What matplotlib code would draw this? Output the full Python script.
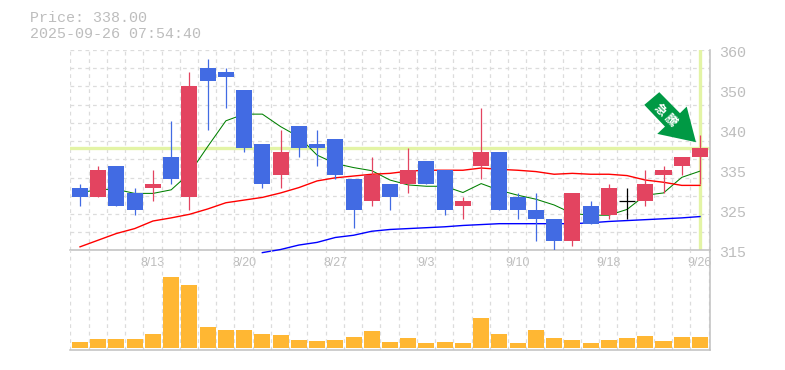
import numpy as np
import matplotlib
matplotlib.use("Agg")
import matplotlib.pyplot as plt
from matplotlib.patches import Polygon
from matplotlib.transforms import Affine2D

opens = [329,327,334,328,329,336,327,356,355,351,339,332,343,339,340,331,326,330,330,335,333,325,334,337,327,324,322,317,325,323,326,326,332,334,336]
closes = [327,333,325,324,330,331,352,353,354,338,330,337,338,338,332,324,332,327,333,330,324,326,337,324,324,322,317,328,321,329,326,330,333,336,338]
highs = [330,334,334,329,333,344,355,358,356,351,339,342,343,342,340,331,336,330,338,335,333,327,347,337,328,328,322,328,326,330,329,333,334,336,341]
lows = [325,327,325,323,326,330,324,342,347,337,329,329,336,334,331,320,325,324,328,330,323,322,331,324,322,317,315,316,321,322,322,325,328,332,330]
ma_short = [327.9,328.7,328.7,327.8,327.8,328.6,332.3,338.3,344.1,345.6,345.6,342.8,340.5,336.4,334.5,333.6,332.9,330.8,329.7,329.4,329.4,328,330,328.5,327.4,326.5,325.2,323.3,322.9,322.9,324.2,327.4,327.9,331.4,332.8]
ma_mid = [315.8,317.3,318.8,319.9,321.6,322.3,323.1,324.3,325.7,326.3,326.9,327.9,329.1,330.6,331.3,331.7,332.1,332.3,332.8,333,333,333,333.5,333.2,333,332.7,332.1,332.3,332.1,332.1,331.8,330.8,330.3,329.6,329.6]
ma_long = [np.nan]*10 + [314.5,315.2,316.2,316.8,317.9,318.4,319.3,319.7,319.9,320.1,320.3,320.6,320.8,321,321,321,321,321,321.2,321.5,321.7,321.9,322.1,322.3,322.6]
volumes = [6,9,9,9,14,71,63,21,18,18,14,13,8,7,8,11,17,6,10,5,6,5,30,14,5,18,10,8,5,8,10,12,7,11,11]
date_labels = ["8/13","8/20","8/27","9/3","9/10","9/18","9/26"]
date_index = [4,9,14,19,24,29,34]
price_ticks = [360,351,342,333,324,315]
price_tick_labels = ["360","350","340","335","325","315"]
last_price = 338

UP, DOWN, DOJI = "#E34460", "#426BE3", "#000000"
GRID, FRAME, TXT = "#dcdcdc", "#c0c0c0", "#bdbdbd"
LIME = "#E3F4A5"
W, H = 785, 370
SLOT = 18.235

fig = plt.figure(figsize=(W/100, H/100), dpi=100, facecolor="white")
def axes_px(l, t, r, b):
    return fig.add_axes([l/W, 1-b/H, (r-l)/W, (b-t)/H])
ax = axes_px(70, 50, 710, 250.4)
axv = axes_px(70, 250.4, 710, 350)
xlim = ((70-80)/SLOT, (710-80)/SLOT)
n = len(opens)
x = np.arange(n)
grid_x = np.arange(n+1) - 0.53

for a in (ax, axv):
    a.set_xlim(*xlim)
    a.patch.set_visible(False)
    a.vlines(grid_x, 0, 1, transform=a.get_xaxis_transform(), color=GRID, lw=0.9,
             linestyles=(0, (3, 3)), zorder=1)
    for s in ("top", "left"):
        a.spines[s].set_visible(False)
    for s in ("bottom", "right"):
        a.spines[s].set_color(FRAME)
        a.spines[s].set_linewidth(1.1)

# price panel
ax.set_ylim(315, 360)
ax.hlines(np.linspace(315, 360, 12), 0, 1, transform=ax.get_yaxis_transform(),
          color=GRID, lw=0.9, linestyles=(0, (3, 3)), zorder=1)
ax.axhline(last_price, color=LIME, lw=2.4, zorder=2)
ax.axvline(n-1, color=LIME, lw=2.4, zorder=2, ymin=0.005, ymax=0.995)
ax.plot(x, ma_short, color="#008000", lw=0.75, zorder=3)
ax.plot(x, ma_mid, color="#FF0000", lw=1.0, zorder=3)
ax.plot(x, ma_long, color="#0000FF", lw=1.0, zorder=3, clip_on=False)

for i in range(n):
    o, c, hi, lo = opens[i], closes[i], highs[i], lows[i]
    col = UP if c > o else DOWN if c < o else DOJI
    ax.vlines(i, lo, hi, color=col, lw=0.9, zorder=4)
    if c == o:
        ax.hlines(o, i-0.44, i+0.44, color=col, lw=0.9, zorder=4)
    else:
        ax.bar(i, abs(c-o), bottom=min(o, c), width=0.88, color=col, lw=0, zorder=5)

ax.set_xticks(date_index)
ax.set_xticklabels(date_labels, family="Liberation Sans", fontsize=8.9, color=TXT)
ax.tick_params(axis="x", length=0, pad=5)
ax.set_yticks([])
for t, lab in zip(price_ticks, price_tick_labels):
    ax.annotate(lab, xy=(1, t), xycoords=ax.get_yaxis_transform(), xytext=(6.4, -2.2),
                textcoords="offset points", ha="left", va="center",
                family="Liberation Mono", fontsize=10.8, color=TXT, annotation_clip=False)

# arrow marker: outline in pixels relative to its tip, tip anchored beside the last candle
arrow_x, arrow_y = n-1-0.22, 339.3
shape = np.array([(644.3,105),(659.3,92.3),(680,113.3),(686.7,106.7),(696,142.3),(657.3,134),(665,126.7)])
offs = (shape - shape[4]) * np.array([1, -1])
tr = Affine2D().translate(*ax.transData.transform((arrow_x, arrow_y)))
ax.add_patch(Polygon(offs, closed=True, facecolor="#009944", edgecolor="none", zorder=6,
                     transform=tr, clip_on=False))
ax.annotate("急 騰", xy=(arrow_x, arrow_y), xycoords="data", xytext=(-21.6, 19.6),
            textcoords="offset points", ha="center", va="center", rotation=-45,
            rotation_mode="anchor", color="white", fontsize=8.6, fontweight="bold",
            family=["Noto Sans CJK JP", "DejaVu Sans"], zorder=7)

# volume panel
axv.set_ylim(-2, 97.6)
axv.bar(x, volumes, width=0.88, color="#FFB733", lw=0, zorder=3)
axv.set_xticks([])
axv.set_yticks([])

fig.text(29.5/W, 1-18.5/H, "Price: 338.00", family="Liberation Mono", fontsize=10.8,
         color=TXT, ha="left", va="center")
fig.text(29.5/W, 1-33.5/H, "2025-09-26 07:54:40", family="Liberation Mono", fontsize=10.8,
         color=TXT, ha="left", va="center")

fig.savefig("out.png", dpi=100)
